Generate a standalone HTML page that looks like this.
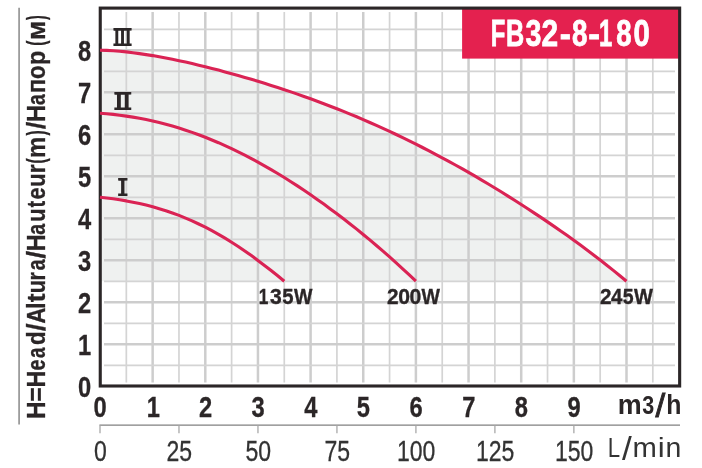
<!DOCTYPE html>
<html><head><meta charset="utf-8"><title>FB32-8-180</title>
<style>
html,body{margin:0;padding:0;background:#fff;}
body{width:702px;height:468px;overflow:hidden;}
svg{display:block;}
text{font-family:"Liberation Sans","Noto Sans CJK SC",sans-serif;fill:#2b2627;}
.b26{font-weight:bold;font-size:30px;stroke:#2b2627;stroke-width:0.3;}
.r27{font-size:29.5px;fill:#333;stroke:#333;stroke-width:0.3;}
.gM{stroke:#cdcdcd;stroke-width:2.5;}
.gm{stroke:#d4d4d4;stroke-width:1.7;}
.ax{stroke:#808080;stroke-width:1.3;}
.cv{fill:none;stroke:#da2354;stroke-width:3.1;stroke-linecap:butt;stroke-linejoin:round;}
.w{font-weight:bold;font-size:22.3px;stroke:#2b2627;stroke-width:0.35;}
.rn{font-family:"Liberation Serif","Noto Serif CJK SC",serif;font-weight:200;font-size:21.6px;stroke:#2b2627;stroke-width:2;}
</style></head><body>
<svg width="702" height="468" viewBox="0 0 702 468">
<rect x="0" y="0" width="702" height="468" fill="#fff"/>
<path d="M100.0,50.2 L106.6,50.4 L113.2,50.8 L119.7,51.3 L126.3,51.9 L132.9,52.7 L139.5,53.6 L146.1,54.6 L152.7,55.6 L159.2,56.8 L165.8,58.0 L172.4,59.3 L179.0,60.7 L185.6,62.1 L192.1,63.6 L198.7,65.2 L205.3,66.8 L211.9,68.4 L218.5,70.1 L225.0,71.9 L231.6,73.7 L238.2,75.5 L244.8,77.4 L251.4,79.3 L257.9,81.3 L264.5,83.3 L271.1,85.4 L277.7,87.5 L284.3,89.7 L290.9,91.9 L297.4,94.1 L304.0,96.5 L310.6,98.8 L317.2,101.2 L323.8,103.7 L330.3,106.2 L336.9,108.8 L343.5,111.4 L350.1,114.1 L356.7,116.8 L363.2,119.6 L369.8,122.5 L376.4,125.4 L383.0,128.4 L389.6,131.4 L396.2,134.5 L402.7,137.6 L409.3,140.9 L415.9,144.1 L422.5,147.5 L429.1,150.8 L435.6,154.3 L442.2,157.8 L448.8,161.4 L455.4,165.0 L462.0,168.7 L468.6,172.4 L475.1,176.2 L481.7,180.1 L488.3,184.0 L494.9,188.0 L501.5,192.0 L508.0,196.1 L514.6,200.3 L521.2,204.5 L527.8,208.7 L534.4,213.1 L540.9,217.4 L547.5,221.9 L554.1,226.4 L560.7,231.0 L567.3,235.6 L573.8,240.3 L580.4,245.1 L587.0,250.0 L593.6,255.0 L600.2,260.0 L606.8,265.2 L613.3,270.4 L619.9,275.7 L626.5,281.2 L100,281.3 Z" fill="#eff1f0"/>
<g>
<line x1="126.33" y1="12" x2="126.33" y2="382.5" class="gm"/>
<line x1="152.65" y1="12" x2="152.65" y2="382.5" class="gM"/>
<line x1="178.97" y1="12" x2="178.97" y2="382.5" class="gm"/>
<line x1="205.30" y1="12" x2="205.30" y2="382.5" class="gM"/>
<line x1="231.62" y1="12" x2="231.62" y2="382.5" class="gm"/>
<line x1="257.95" y1="12" x2="257.95" y2="382.5" class="gM"/>
<line x1="284.27" y1="12" x2="284.27" y2="382.5" class="gm"/>
<line x1="310.60" y1="12" x2="310.60" y2="382.5" class="gM"/>
<line x1="336.92" y1="12" x2="336.92" y2="382.5" class="gm"/>
<line x1="363.25" y1="12" x2="363.25" y2="382.5" class="gM"/>
<line x1="389.57" y1="12" x2="389.57" y2="382.5" class="gm"/>
<line x1="415.90" y1="12" x2="415.90" y2="382.5" class="gM"/>
<line x1="442.22" y1="12" x2="442.22" y2="382.5" class="gm"/>
<line x1="468.55" y1="12" x2="468.55" y2="382.5" class="gM"/>
<line x1="494.88" y1="12" x2="494.88" y2="382.5" class="gm"/>
<line x1="521.20" y1="12" x2="521.20" y2="382.5" class="gM"/>
<line x1="547.52" y1="12" x2="547.52" y2="382.5" class="gm"/>
<line x1="573.85" y1="12" x2="573.85" y2="382.5" class="gM"/>
<line x1="600.17" y1="12" x2="600.17" y2="382.5" class="gm"/>
<line x1="626.50" y1="12" x2="626.50" y2="382.5" class="gM"/>
<line x1="652.82" y1="12" x2="652.82" y2="382.5" class="gm"/>
<line x1="104" y1="365.30" x2="675" y2="365.30" class="gm"/>
<line x1="104" y1="344.30" x2="675" y2="344.30" class="gM"/>
<line x1="104" y1="323.30" x2="675" y2="323.30" class="gm"/>
<line x1="104" y1="302.30" x2="675" y2="302.30" class="gM"/>
<line x1="104" y1="281.30" x2="675" y2="281.30" class="gm"/>
<line x1="104" y1="260.30" x2="675" y2="260.30" class="gM"/>
<line x1="104" y1="239.30" x2="675" y2="239.30" class="gm"/>
<line x1="104" y1="218.30" x2="675" y2="218.30" class="gM"/>
<line x1="104" y1="197.30" x2="675" y2="197.30" class="gm"/>
<line x1="104" y1="176.30" x2="675" y2="176.30" class="gM"/>
<line x1="104" y1="155.30" x2="675" y2="155.30" class="gm"/>
<line x1="104" y1="134.30" x2="675" y2="134.30" class="gM"/>
<line x1="104" y1="113.30" x2="675" y2="113.30" class="gm"/>
<line x1="104" y1="92.30" x2="675" y2="92.30" class="gM"/>
<line x1="104" y1="71.30" x2="675" y2="71.30" class="gm"/>
<line x1="104" y1="50.30" x2="675" y2="50.30" class="gM"/>
<line x1="104" y1="29.30" x2="675" y2="29.30" class="gm"/>
</g>
<rect x="462.1" y="8" width="217.5" height="50.6" fill="#e4214f"/>
<rect x="100.25" y="8.1" width="579.4" height="377.9" fill="none" stroke="#2b2627" stroke-width="3.1"/>
<path class="cv" d="M100.0,50.2 L106.6,50.4 L113.2,50.8 L119.7,51.3 L126.3,51.9 L132.9,52.7 L139.5,53.6 L146.1,54.6 L152.7,55.6 L159.2,56.8 L165.8,58.0 L172.4,59.3 L179.0,60.7 L185.6,62.1 L192.1,63.6 L198.7,65.2 L205.3,66.8 L211.9,68.4 L218.5,70.1 L225.0,71.9 L231.6,73.7 L238.2,75.5 L244.8,77.4 L251.4,79.3 L257.9,81.3 L264.5,83.3 L271.1,85.4 L277.7,87.5 L284.3,89.7 L290.9,91.9 L297.4,94.1 L304.0,96.5 L310.6,98.8 L317.2,101.2 L323.8,103.7 L330.3,106.2 L336.9,108.8 L343.5,111.4 L350.1,114.1 L356.7,116.8 L363.2,119.6 L369.8,122.5 L376.4,125.4 L383.0,128.4 L389.6,131.4 L396.2,134.5 L402.7,137.6 L409.3,140.9 L415.9,144.1 L422.5,147.5 L429.1,150.8 L435.6,154.3 L442.2,157.8 L448.8,161.4 L455.4,165.0 L462.0,168.7 L468.6,172.4 L475.1,176.2 L481.7,180.1 L488.3,184.0 L494.9,188.0 L501.5,192.0 L508.0,196.1 L514.6,200.3 L521.2,204.5 L527.8,208.7 L534.4,213.1 L540.9,217.4 L547.5,221.9 L554.1,226.4 L560.7,231.0 L567.3,235.6 L573.8,240.3 L580.4,245.1 L587.0,250.0 L593.6,255.0 L600.2,260.0 L606.8,265.2 L613.3,270.4 L619.9,275.7 L626.5,281.2"/>
<path class="cv" d="M100.0,113.2 L106.6,113.7 L113.2,114.4 L119.7,115.2 L126.3,116.1 L132.9,117.1 L139.5,118.3 L146.1,119.6 L152.7,121.0 L159.2,122.6 L165.8,124.2 L172.4,126.1 L179.0,128.1 L185.6,130.2 L192.1,132.4 L198.7,134.8 L205.3,137.3 L211.9,140.0 L218.5,142.7 L225.0,145.6 L231.6,148.7 L238.2,151.9 L244.8,155.2 L251.4,158.6 L257.9,162.1 L264.5,165.8 L271.1,169.6 L277.7,173.5 L284.3,177.5 L290.9,181.7 L297.4,185.9 L304.0,190.3 L310.6,194.8 L317.2,199.4 L323.8,204.1 L330.3,208.9 L336.9,213.8 L343.5,218.8 L350.1,223.9 L356.7,229.1 L363.2,234.5 L369.8,239.9 L376.4,245.5 L383.0,251.1 L389.6,256.9 L396.2,262.8 L402.7,268.8 L409.3,274.9 L415.9,281.2"/>
<path class="cv" d="M100.0,197.2 L106.6,198.0 L113.2,198.8 L119.7,199.8 L126.3,200.9 L132.9,202.2 L139.5,203.5 L146.1,205.1 L152.7,206.8 L159.2,208.7 L165.8,210.7 L172.4,213.0 L179.0,215.4 L185.6,218.1 L192.1,220.9 L198.7,224.0 L205.3,227.2 L211.9,230.7 L218.5,234.3 L225.0,238.2 L231.6,242.3 L238.2,246.5 L244.8,251.0 L251.4,255.6 L257.9,260.4 L264.5,265.4 L271.1,270.5 L277.7,275.8 L284.3,281.2"/>
<text y="45.7" style="font-weight:bold;font-size:36px;fill:#fff;stroke:#fff;stroke-width:0.8"><tspan x="490.80" textLength="14.57" lengthAdjust="spacingAndGlyphs">F</tspan><tspan x="506.01" textLength="18.24" lengthAdjust="spacingAndGlyphs">B</tspan><tspan x="525.54" textLength="15.89" lengthAdjust="spacingAndGlyphs">3</tspan><tspan x="541.56" textLength="16.63" lengthAdjust="spacingAndGlyphs">2</tspan><tspan x="559.69" textLength="11.15" lengthAdjust="spacingAndGlyphs">-</tspan><tspan x="571.92" textLength="15.43" lengthAdjust="spacingAndGlyphs">8</tspan><tspan x="588.22" textLength="11.80" lengthAdjust="spacingAndGlyphs">-</tspan><tspan x="599.10" textLength="13.27" lengthAdjust="spacingAndGlyphs">1</tspan><tspan x="616.33" textLength="15.32" lengthAdjust="spacingAndGlyphs">8</tspan><tspan x="633.54" textLength="16.25" lengthAdjust="spacingAndGlyphs">0</tspan></text>
<text class="rn" transform="translate(122.65,45) scale(0.86,1)" text-anchor="middle">Ⅲ</text>
<text class="rn" transform="translate(122.8,109.1) scale(1.14,1)" text-anchor="middle">Ⅱ</text>
<text class="rn" transform="translate(122.9,194.8)" text-anchor="middle">Ⅰ</text>
<text class="w" y="304.4"><tspan x="258.82" textLength="9.56" lengthAdjust="spacingAndGlyphs">1</tspan><tspan x="269.92" textLength="11.75" lengthAdjust="spacingAndGlyphs">3</tspan><tspan x="282.28" textLength="11.29" lengthAdjust="spacingAndGlyphs">5</tspan><tspan x="293.98" textLength="18.44" lengthAdjust="spacingAndGlyphs">W</tspan></text>
<text class="w" y="304.4"><tspan x="386.98" textLength="11.55" lengthAdjust="spacingAndGlyphs">2</tspan><tspan x="398.36" textLength="11.81" lengthAdjust="spacingAndGlyphs">0</tspan><tspan x="409.46" textLength="11.81" lengthAdjust="spacingAndGlyphs">0</tspan><tspan x="421.48" textLength="18.44" lengthAdjust="spacingAndGlyphs">W</tspan></text>
<text class="w" y="304.4"><tspan x="599.98" textLength="11.55" lengthAdjust="spacingAndGlyphs">2</tspan><tspan x="610.99" textLength="11.42" lengthAdjust="spacingAndGlyphs">4</tspan><tspan x="622.70" textLength="10.84" lengthAdjust="spacingAndGlyphs">5</tspan><tspan x="633.98" textLength="18.94" lengthAdjust="spacingAndGlyphs">W</tspan></text>
<text class="b26" transform="translate(84.6,397.0) scale(0.79,1)" text-anchor="middle">0</text>
<text class="b26" transform="translate(84.6,355.0) scale(0.79,1)" text-anchor="middle">1</text>
<text class="b26" transform="translate(84.6,313.0) scale(0.79,1)" text-anchor="middle">2</text>
<text class="b26" transform="translate(84.6,271.0) scale(0.79,1)" text-anchor="middle">3</text>
<text class="b26" transform="translate(84.6,229.0) scale(0.79,1)" text-anchor="middle">4</text>
<text class="b26" transform="translate(84.6,187.0) scale(0.79,1)" text-anchor="middle">5</text>
<text class="b26" transform="translate(84.6,145.0) scale(0.79,1)" text-anchor="middle">6</text>
<text class="b26" transform="translate(84.6,103.0) scale(0.79,1)" text-anchor="middle">7</text>
<text class="b26" transform="translate(84.6,61.0) scale(0.79,1)" text-anchor="middle">8</text>
<text class="b26" transform="translate(100.2,417.3) scale(0.79,1)" text-anchor="middle">0</text>
<text class="b26" transform="translate(153.4,417.3) scale(0.79,1)" text-anchor="middle">1</text>
<text class="b26" transform="translate(205.5,417.3) scale(0.79,1)" text-anchor="middle">2</text>
<text class="b26" transform="translate(258.1,417.3) scale(0.79,1)" text-anchor="middle">3</text>
<text class="b26" transform="translate(310.8,417.3) scale(0.79,1)" text-anchor="middle">4</text>
<text class="b26" transform="translate(363.4,417.3) scale(0.79,1)" text-anchor="middle">5</text>
<text class="b26" transform="translate(416.1,417.3) scale(0.79,1)" text-anchor="middle">6</text>
<text class="b26" transform="translate(468.8,417.3) scale(0.79,1)" text-anchor="middle">7</text>
<text class="b26" transform="translate(521.4,417.3) scale(0.79,1)" text-anchor="middle">8</text>
<text class="b26" transform="translate(574.0,417.3) scale(0.79,1)" text-anchor="middle">9</text>
<text y="414" style="font-weight:bold"><tspan x="617.82" font-size="27" y="414" textLength="23.95" lengthAdjust="spacingAndGlyphs">m</tspan><tspan x="642.21" font-size="25" y="414" textLength="11.97" lengthAdjust="spacingAndGlyphs">3</tspan><tspan x="655.50" font-size="33" font-weight="normal" y="417.1" stroke="#2b2627" stroke-width="0.9" textLength="9.70" lengthAdjust="spacingAndGlyphs">/</tspan><tspan x="666.27" font-size="28.3" y="414" textLength="15.18" lengthAdjust="spacingAndGlyphs">h</tspan></text>
<line x1="19.1" y1="7.8" x2="19.1" y2="424.6" stroke="#9c9c9c" stroke-width="1.8"/>
<line x1="99.4" y1="425.1" x2="680" y2="425.1" class="ax"/>
<line x1="100.00" y1="425.5" x2="100.00" y2="433.3" stroke="#a8a8a8" stroke-width="1.3"/>
<line x1="178.98" y1="425.5" x2="178.98" y2="433.3" stroke="#a8a8a8" stroke-width="1.3"/>
<line x1="257.96" y1="425.5" x2="257.96" y2="433.3" stroke="#a8a8a8" stroke-width="1.3"/>
<line x1="336.94" y1="425.5" x2="336.94" y2="433.3" stroke="#a8a8a8" stroke-width="1.3"/>
<line x1="415.92" y1="425.5" x2="415.92" y2="433.3" stroke="#a8a8a8" stroke-width="1.3"/>
<line x1="494.90" y1="425.5" x2="494.90" y2="433.3" stroke="#a8a8a8" stroke-width="1.3"/>
<line x1="573.88" y1="425.5" x2="573.88" y2="433.3" stroke="#a8a8a8" stroke-width="1.3"/>
<text class="r27" transform="translate(100.3,460.5) scale(0.78,1)" text-anchor="middle">0</text>
<text class="r27" transform="translate(179.3,460.5) scale(0.78,1)" text-anchor="middle">25</text>
<text class="r27" transform="translate(258.3,460.5) scale(0.78,1)" text-anchor="middle">50</text>
<text class="r27" transform="translate(337.2,460.5) scale(0.78,1)" text-anchor="middle">75</text>
<text class="r27" transform="translate(416.2,460.5) scale(0.78,1)" text-anchor="middle">100</text>
<text class="r27" transform="translate(495.2,460.5) scale(0.78,1)" text-anchor="middle">125</text>
<text class="r27" transform="translate(574.2,460.5) scale(0.78,1)" text-anchor="middle">150</text>
<text y="457" style="font-size:28.3px;fill:#333"><tspan x="607.68" font-size="28.3" y="457" textLength="12.36" lengthAdjust="spacingAndGlyphs">L</tspan><tspan x="621.90" font-size="32.5" y="460.1" textLength="9.80" lengthAdjust="spacingAndGlyphs">/</tspan><tspan x="632.56" font-size="28.3" y="457" textLength="24.37" lengthAdjust="spacingAndGlyphs">m</tspan><tspan x="657.76" font-size="28.3" y="457" textLength="6.95" lengthAdjust="spacingAndGlyphs">i</tspan><tspan x="665.41" font-size="28.3" y="457" textLength="15.84" lengthAdjust="spacingAndGlyphs">n</tspan></text>
<text transform="translate(44.6,417.6) rotate(-90)" style="font-weight:bold;font-size:25.5px;stroke:#2b2627;stroke-width:0.3"><tspan x="-1.53" textLength="17.57" lengthAdjust="spacingAndGlyphs">H</tspan><tspan x="16.19" textLength="14.21" lengthAdjust="spacingAndGlyphs">=</tspan><tspan x="30.13" textLength="16.95" lengthAdjust="spacingAndGlyphs">H</tspan><tspan x="47.02" textLength="11.06" lengthAdjust="spacingAndGlyphs">e</tspan><tspan x="59.65" textLength="10.43" lengthAdjust="spacingAndGlyphs">a</tspan><tspan x="72.49" textLength="13.58" lengthAdjust="spacingAndGlyphs">d</tspan><tspan x="86.63" textLength="7.64" lengthAdjust="spacingAndGlyphs">/</tspan><tspan x="94.05" textLength="15.93" lengthAdjust="spacingAndGlyphs">A</tspan><tspan x="108.72" textLength="6.68" lengthAdjust="spacingAndGlyphs">l</tspan><tspan x="115.28" textLength="8.74" lengthAdjust="spacingAndGlyphs">t</tspan><tspan x="124.25" textLength="13.28" lengthAdjust="spacingAndGlyphs">u</tspan><tspan x="137.09" textLength="8.34" lengthAdjust="spacingAndGlyphs">r</tspan><tspan x="147.33" textLength="10.85" lengthAdjust="spacingAndGlyphs">a</tspan><tspan x="159.14" textLength="7.53" lengthAdjust="spacingAndGlyphs">/</tspan><tspan x="166.34" textLength="16.83" lengthAdjust="spacingAndGlyphs">H</tspan><tspan x="182.92" textLength="10.95" lengthAdjust="spacingAndGlyphs">a</tspan><tspan x="195.85" textLength="13.28" lengthAdjust="spacingAndGlyphs">u</tspan><tspan x="210.15" textLength="6.69" lengthAdjust="spacingAndGlyphs">t</tspan><tspan x="218.05" textLength="12.09" lengthAdjust="spacingAndGlyphs">e</tspan><tspan x="230.85" textLength="13.28" lengthAdjust="spacingAndGlyphs">u</tspan><tspan x="244.40" textLength="8.84" lengthAdjust="spacingAndGlyphs">r</tspan><tspan x="254.01" textLength="5.31" lengthAdjust="spacingAndGlyphs">(</tspan><tspan x="259.62" textLength="21.26" lengthAdjust="spacingAndGlyphs">m</tspan><tspan x="282.08" textLength="5.31" lengthAdjust="spacingAndGlyphs">)</tspan><tspan x="288.65" textLength="7.21" lengthAdjust="spacingAndGlyphs">/</tspan><tspan x="295.52" textLength="17.07" lengthAdjust="spacingAndGlyphs">Н</tspan><tspan x="312.73" textLength="10.74" lengthAdjust="spacingAndGlyphs">а</tspan><tspan x="324.25" textLength="14.31" lengthAdjust="spacingAndGlyphs">п</tspan><tspan x="338.73" textLength="13.53" lengthAdjust="spacingAndGlyphs">о</tspan><tspan x="352.66" textLength="14.30" lengthAdjust="spacingAndGlyphs">р</tspan> <tspan x="371.81" textLength="5.31" lengthAdjust="spacingAndGlyphs">(</tspan><tspan x="377.58" textLength="19.23" lengthAdjust="spacingAndGlyphs">м</tspan><tspan x="397.69" textLength="4.60" lengthAdjust="spacingAndGlyphs">)</tspan></text>
</svg>
</body></html>
